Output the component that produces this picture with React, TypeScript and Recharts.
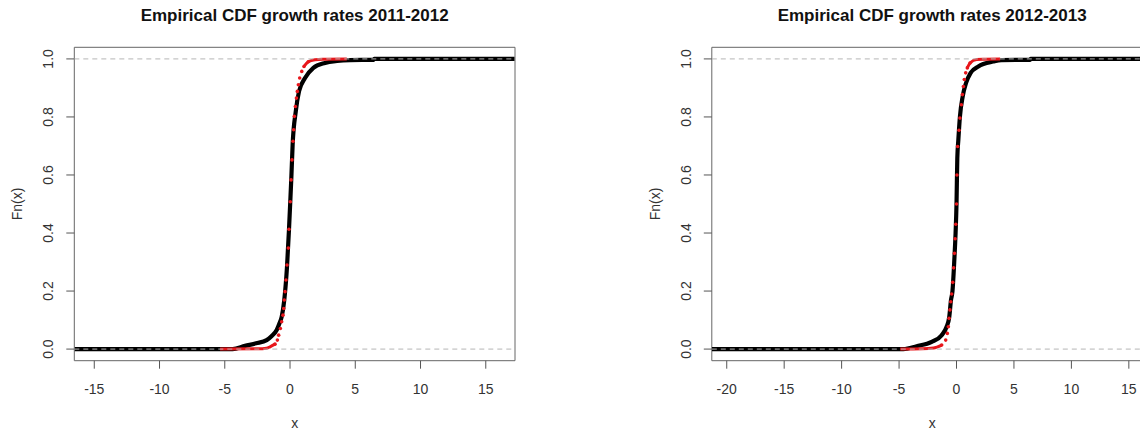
import React from 'react';
import { ComposedChart, Line, XAxis, YAxis, ReferenceLine, ReferenceArea } from 'recharts';

const yTicks = [0, 0.2, 0.4, 0.6, 0.8, 1.0];
const xTicks1112 = [-15, -10, -5, 0, 5, 10, 15];
const xTicks1213 = [-20, -15, -10, -5, 0, 5, 10, 15];

// 2011-2012: empirical CDF (black)
const black1112X = [-16.5, -4.4, -3.45, -2.6, -1.79, -1.4, -1.02, -0.8, -0.64, -0.44, -0.23, -0.08, 0.02, 0.1, 0.2, 0.44, 0.69, 1.15, 1.79, 2.68, 3.6, 4.6, 6.4, 6.45, 17.2];
const black1112F = [0, 0, 0.011, 0.02, 0.031, 0.045, 0.066, 0.09, 0.111, 0.169, 0.284, 0.411, 0.508, 0.589, 0.704, 0.819, 0.888, 0.934, 0.969, 0.986, 0.993, 0.996, 0.997, 1, 1];
// 2011-2012: red comparison points
const redLow1112X = [-5.36, -2.5, -1.8, -1.53, -1.15];
const redLow1112F = [0, 0.001, 0.003, 0.008, 0.017];
const redDots1112X = [-1.15, -0.97, -0.87, -0.74, -0.64, -0.54, -0.48, -0.44, -0.38, -0.31, -0.23, -0.13, -0.08, 0.02, 0.08, 0.15, 0.23, 0.28, 0.33, 0.41, 0.49, 0.56, 0.64, 0.74, 0.9, 1.07, 1.4];
const redDots1112F = [0.017, 0.031, 0.048, 0.071, 0.094, 0.117, 0.14, 0.169, 0.198, 0.238, 0.29, 0.348, 0.413, 0.508, 0.583, 0.652, 0.716, 0.756, 0.802, 0.836, 0.865, 0.888, 0.911, 0.934, 0.957, 0.974, 0.99];
const redHigh1112X = [1.07, 1.4, 1.92, 2.5, 4.35];
const redHigh1112F = [0.974, 0.99, 0.997, 0.999, 1];

// 2012-2013
const black1213X = [-21.3, -4.63, -3.47, -2.16, -1.29, -0.86, -0.63, -0.48, -0.35, -0.2, -0.08, 0, 0.07, 0.16, 0.3, 0.54, 0.83, 1.23, 1.9, 3.2, 3.9, 6.4, 6.45, 17.1];
const black1213F = [0, 0, 0.01, 0.025, 0.048, 0.077, 0.111, 0.169, 0.2, 0.3, 0.4, 0.5, 0.658, 0.721, 0.802, 0.871, 0.917, 0.952, 0.974, 0.991, 0.996, 0.997, 1, 1];
const redLow1213X = [-4.9, -3.0, -2.0, -1.29];
const redLow1213F = [0, 0.001, 0.004, 0.014];
const redDots1213X = [-1.29, -0.94, -0.8, -0.71, -0.65, -0.57, -0.5, -0.42, -0.33, -0.25, -0.18, -0.12, -0.06, 0, 0.04, 0.1, 0.22, 0.3, 0.42, 0.51, 0.6, 0.68, 0.8, 0.94, 1.18];
const redDots1213F = [0.014, 0.031, 0.054, 0.077, 0.106, 0.135, 0.163, 0.19, 0.23, 0.28, 0.33, 0.38, 0.43, 0.5, 0.6, 0.698, 0.754, 0.796, 0.842, 0.877, 0.905, 0.929, 0.952, 0.969, 0.986];
const redHigh1213X = [0.94, 1.18, 1.76, 2.5, 3.8];
const redHigh1213F = [0.969, 0.986, 0.998, 0.999, 1];

const zip = (xs: number[], fs: number[]) => xs.map((x, i) => ({ x, y: fs[i] }));

const FONT = '"Liberation Sans", Arial, Helvetica, sans-serif';
const H = 430;
const TOP = 47.3;
const PLOT_W = 440.7;
const PLOT_H = 313.4;

type Pt = { x: number; y: number };
type PanelProps = {
  title: string;
  left: number;
  width: number;
  yAxisW: number;
  domain: [number, number];
  ticks: number[];
  black: Pt[];
  redLow: Pt[];
  redDots: Pt[];
  redHigh: Pt[];
};

const Panel = ({ title, left, width, yAxisW, domain, ticks, black, redLow, redDots, redHigh }: PanelProps) => {
  const plotLeft = yAxisW;
  const cx = plotLeft + PLOT_W / 2;

  const YTick = (props: any) => {
    const bx = plotLeft - 21;
    return (
      <text x={bx} y={props.y} transform={`rotate(-90, ${bx}, ${props.y})`} textAnchor="middle"
        fontSize={14} fill="#333" fontFamily={FONT}>
        {Number(props.payload.value).toFixed(1)}
      </text>
    );
  };
  const XTick = (props: any) => (
    <text x={props.x} y={393.5} textAnchor="middle" fontSize={14} fill="#333" fontFamily={FONT}>
      {props.payload.value}
    </text>
  );

  return (
    <div style={{ position: 'absolute', left, top: 0, width, height: H }}>
      <ComposedChart width={width} height={H} margin={{ top: TOP, right: width - yAxisW - PLOT_W, bottom: 0, left: 0 }}>
        <XAxis dataKey="x" type="number" domain={domain} ticks={ticks} allowDataOverflow
          height={H - TOP - PLOT_H} axisLine={false} tickSize={8} tickLine={{ stroke: '#555' }} tick={<XTick />}
          interval={0} />
        <YAxis dataKey="y" type="number" domain={[-0.04, 1.04]} ticks={yTicks} allowDataOverflow
          width={yAxisW} axisLine={false} tickSize={8} tickLine={{ stroke: '#555' }} tick={<YTick />}
          interval={0} />
        <Line data={black} dataKey="y" type="monotone" stroke="#000" strokeWidth={4.2} dot={false} activeDot={false} isAnimationActive={false} />
        <Line data={redLow} dataKey="y" type="monotone" stroke="#e8161b" strokeWidth={3} dot={false} activeDot={false} isAnimationActive={false} />
        <Line data={redHigh} dataKey="y" type="monotone" stroke="#e8161b" strokeWidth={3} dot={false} activeDot={false} isAnimationActive={false} />
        <Line data={redDots} dataKey="y" type="linear" stroke="none" dot={{ r: 1.8, fill: '#e8161b', stroke: 'none' }} activeDot={false} isAnimationActive={false} />
        <ReferenceLine y={0} stroke="#b5b5b5" strokeDasharray="5 4" strokeWidth={1} />
        <ReferenceLine y={1} stroke="#b5b5b5" strokeDasharray="5 4" strokeWidth={1} />
        <ReferenceArea x1={domain[0]} x2={domain[1]} y1={-0.04} y2={1.04} fill="none" stroke="#666" strokeWidth={1} ifOverflow="visible" />
      </ComposedChart>
      <svg style={{ position: 'absolute', left: 0, top: 0, pointerEvents: 'none' }} width={width} height={H}>
        <text x={cx} y={21} textAnchor="middle" fontSize={17} fontWeight="bold" fill="#111" fontFamily={FONT}>{title}</text>
        <text x={cx} y={427.5} textAnchor="middle" fontSize={14} fill="#333" fontFamily={FONT}>x</text>
        <text x={plotLeft - 52} y={TOP + PLOT_H / 2} transform={`rotate(-90, ${plotLeft - 52}, ${TOP + PLOT_H / 2})`}
          textAnchor="middle" fontSize={14} fill="#333" fontFamily={FONT}>Fn(x)</text>
      </svg>
    </div>
  );
};

export default function App() {
  return (
    <div style={{ position: 'absolute', left: 0, top: 0, width: 1140, height: H, overflow: 'hidden', background: '#fff' }}>
      <Panel
        title="Empirical CDF growth rates 2011-2012"
        left={0}
        width={560}
        yAxisW={74.3}
        domain={[-16.53, 17.24]}
        ticks={xTicks1112}
        black={zip(black1112X, black1112F)}
        redLow={zip(redLow1112X, redLow1112F)}
        redDots={zip(redDots1112X, redDots1112F)}
        redHigh={zip(redHigh1112X, redHigh1112F)}
      />
      <Panel
        title="Empirical CDF growth rates 2012-2013"
        left={600}
        width={600}
        yAxisW={111.8}
        domain={[-21.3, 17.06]}
        ticks={xTicks1213}
        black={zip(black1213X, black1213F)}
        redLow={zip(redLow1213X, redLow1213F)}
        redDots={zip(redDots1213X, redDots1213F)}
        redHigh={zip(redHigh1213X, redHigh1213F)}
      />
    </div>
  );
}
